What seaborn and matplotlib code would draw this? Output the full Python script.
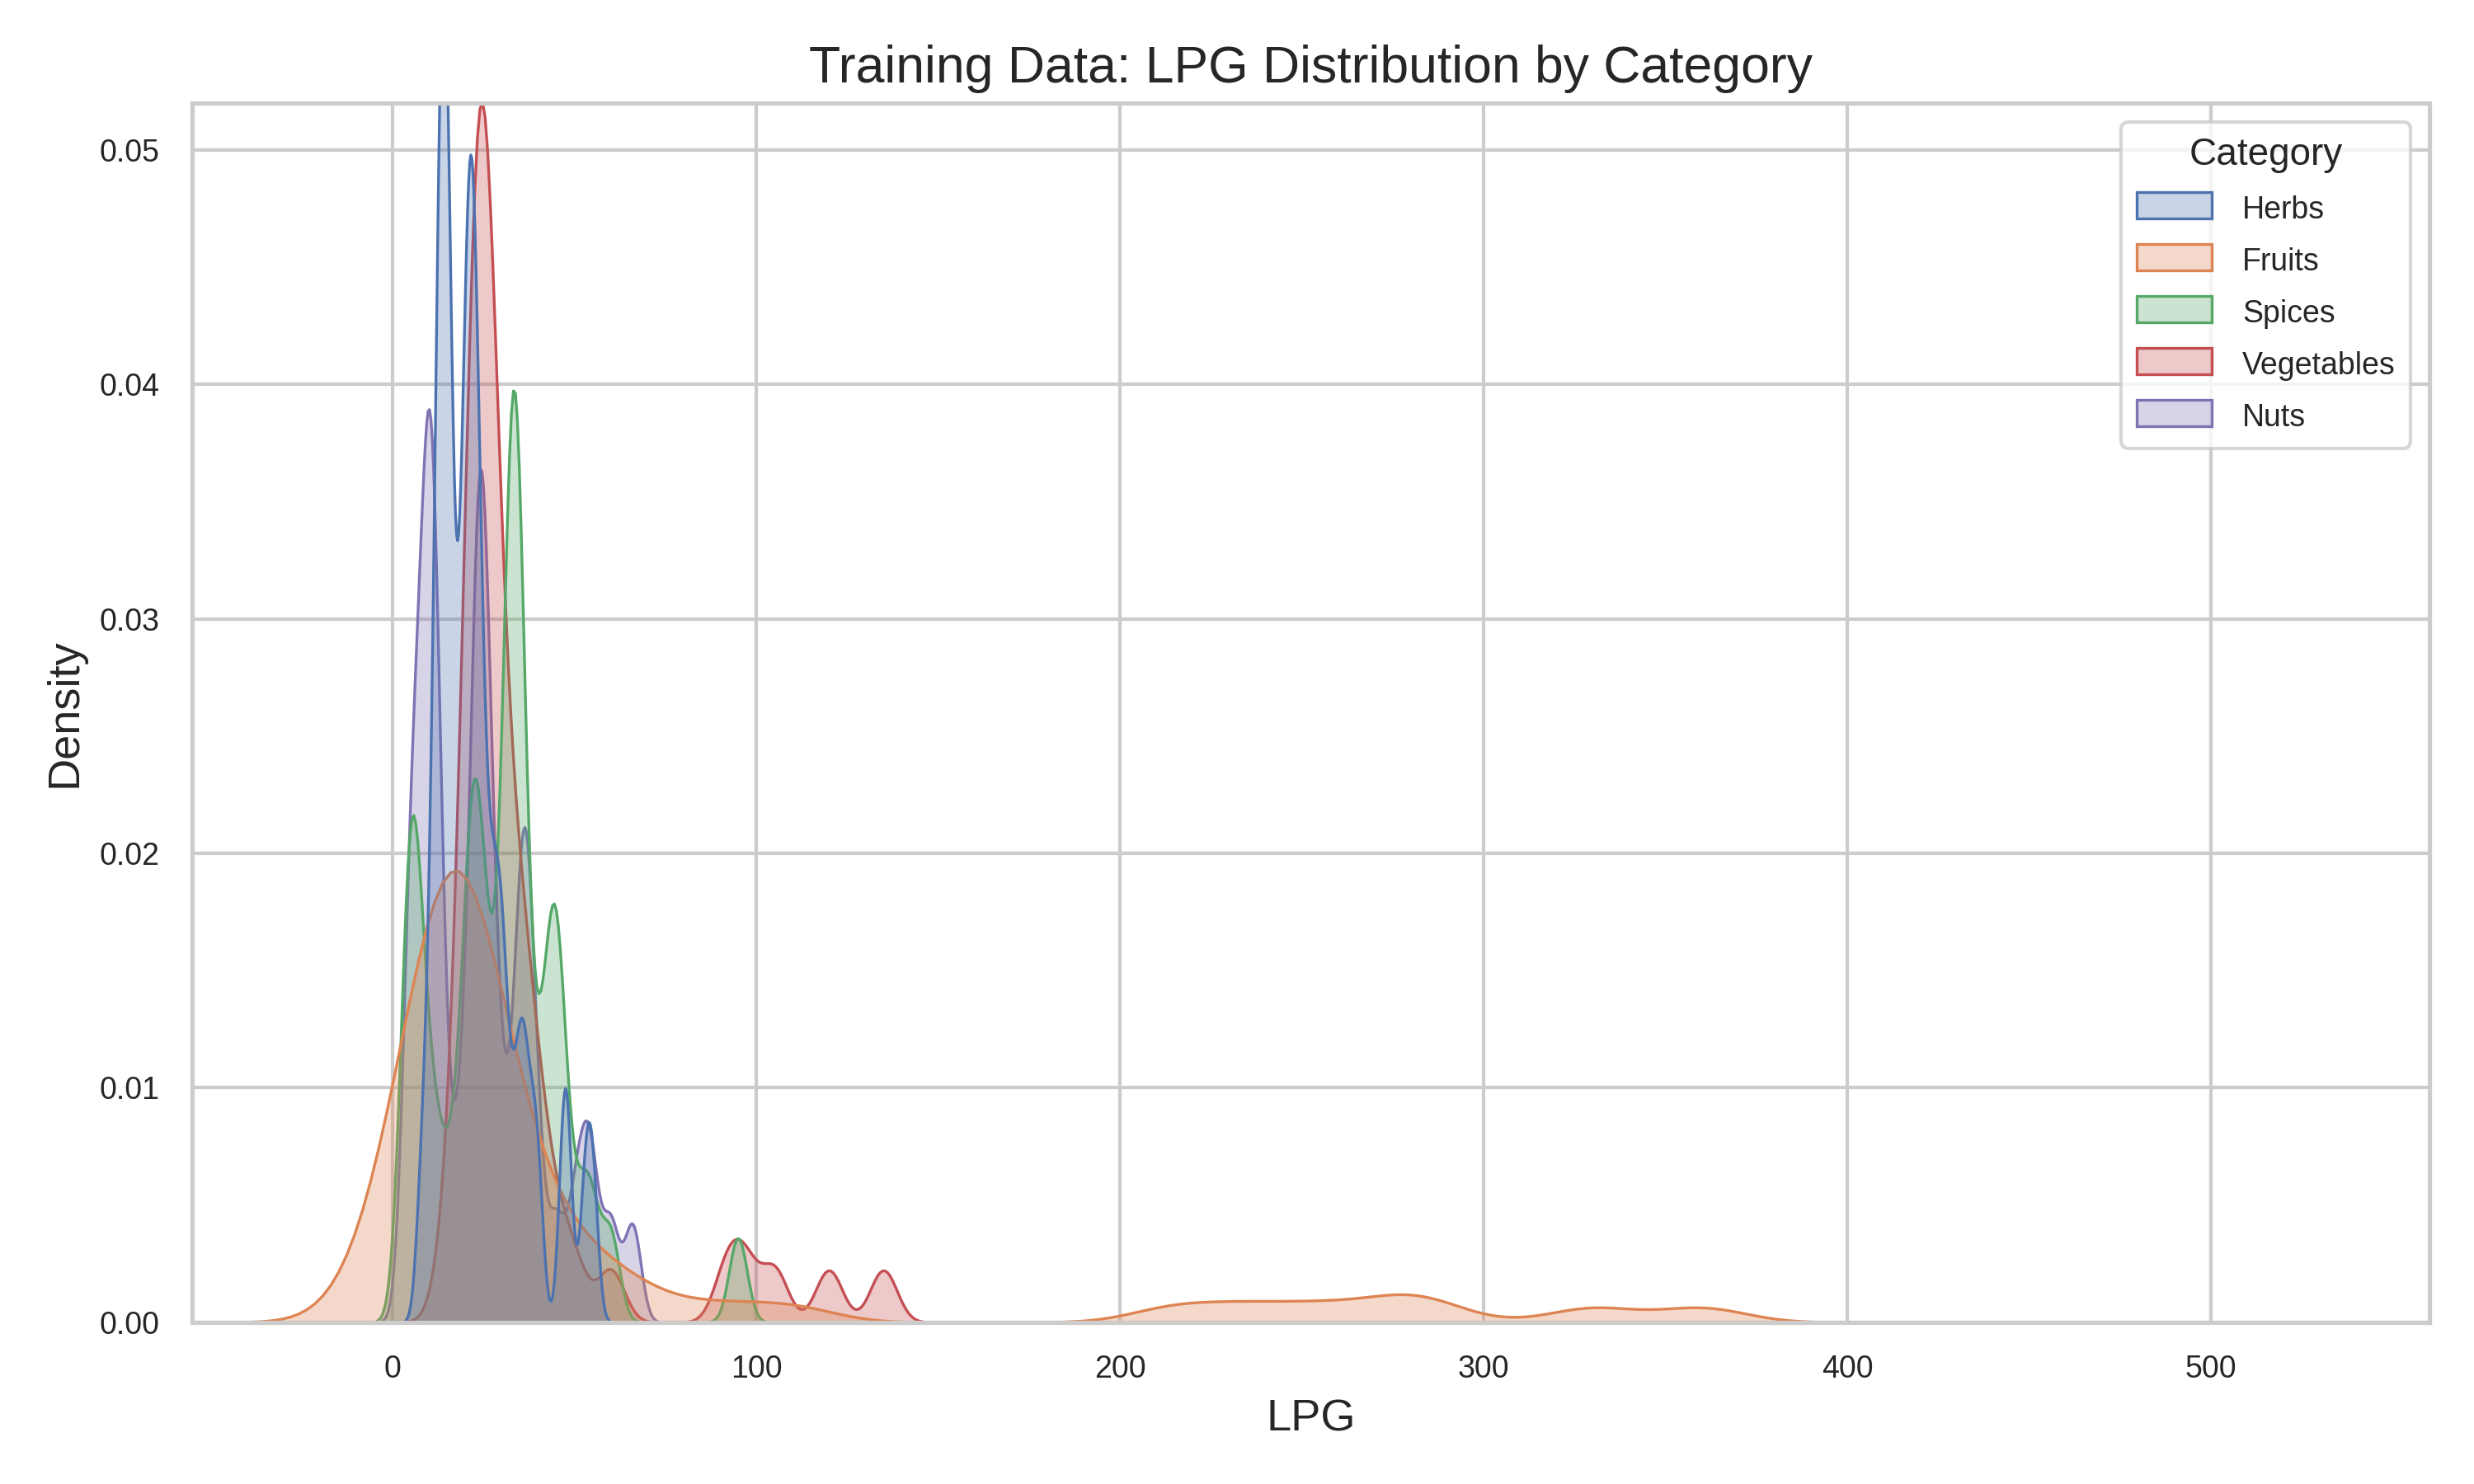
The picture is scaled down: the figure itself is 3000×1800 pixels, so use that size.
import matplotlib
matplotlib.use("Agg")
import matplotlib.pyplot as plt
import pandas as pd
import seaborn as sns

# LPG sample values per category
herbs = [8, 10, 11, 12, 13, 13, 13, 14, 14, 14, 14, 15, 15, 15, 16, 17, 18, 19, 20, 20,
         21, 21, 21, 22, 22, 22, 23, 23, 24, 25, 26, 27, 28, 30, 31, 33, 35, 36, 38, 40,
         12, 16, 19, 24, 29, 47, 48, 53, 55]
fruits = [-5, 0, 2, 4, 5, 7, 8, 9, 10, 11, 12, 13, 14, 15, 15, 16, 16, 17, 17, 18,
          18, 19, 20, 21, 22, 23, 24, 25, 26, 28, 30, 32, 35, 38, 40, 45, 50, 55, 60, 70,
          12, 14, 19, 20, 22, 27, 90, 110, 215, 235, 255, 275, 285, 330, 360]
spices = [3, 4, 5, 5, 6, 7, 8, 10, 12, 15, 18, 20, 21, 22, 22, 23, 24, 25, 26, 28,
          30, 31, 32, 32, 33, 33, 33, 34, 34, 34, 35, 35, 36, 38, 40, 42, 44, 44, 45, 46,
          48, 52, 55, 60, 95]
vegetables = [15, 18, 19, 20, 21, 21, 22, 22, 23, 23, 23, 24, 24, 24, 24, 25, 25, 25, 26, 26,
              27, 27, 28, 28, 29, 30, 30, 31, 32, 33, 34, 35, 36, 37, 38, 40, 42, 45, 50, 60,
              22, 23, 25, 26, 92, 97, 105, 120, 135]
nuts = [4, 5, 5, 6, 7, 8, 9, 10, 10, 10, 10, 11, 11, 12, 13, 14, 18, 20, 22, 23,
        23, 24, 24, 24, 25, 25, 26, 27, 28, 30, 33, 35, 36, 36, 37, 38, 40, 45, 50, 53,
        55, 60, 66]

categories = ["Herbs", "Fruits", "Spices", "Vegetables", "Nuts"]
series = [herbs, fruits, spices, vegetables, nuts]

df = pd.DataFrame({
    "LPG": [v for s in series for v in s],
    "Category": [c for c, s in zip(categories, series) for _ in s],
})

sns.set_theme(style="whitegrid", palette="deep")
plt.rcParams["font.family"] = ["Liberation Sans", "DejaVu Sans"]
fig, ax = plt.subplots(figsize=(10, 6), dpi=300)

sns.kdeplot(data=df, x="LPG", hue="Category", hue_order=categories, fill=True,
            common_norm=False, bw_adjust=0.3, alpha=0.3, linewidth=0.8, ax=ax)

ax.set_title("Training Data: LPG Distribution by Category", fontsize=15)
ax.set_xlabel("LPG", fontsize=13)
ax.set_ylabel("Density", fontsize=13)
ax.tick_params(labelsize=9)
ax.set_xlim(-55, 560)
ax.set_ylim(0, 0.052)
for s in ax.spines.values():
    s.set_edgecolor("#cccccc")
leg = ax.get_legend()
leg.set_loc("upper right")
leg.set_title("Category", prop={"size": 11})
for t in leg.get_texts():
    t.set_fontsize(9)

plt.tight_layout()
plt.savefig("out.png", dpi=300)
